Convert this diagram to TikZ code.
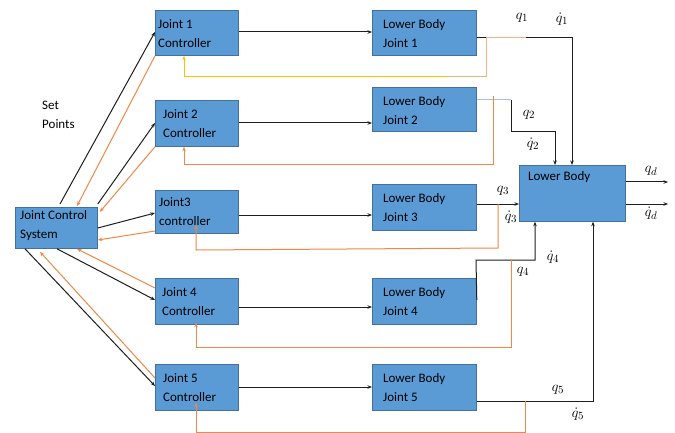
\documentclass[tikz,border=0pt]{standalone}
\usepackage{fontspec}
\setmainfont{Carlito}
\usetikzlibrary{arrows.meta,calc}
\definecolor{boxfill}{RGB}{91,155,213}
\definecolor{boxline}{RGB}{65,113,156}
\definecolor{fb}{RGB}{240,135,70}
\definecolor{fblight}{RGB}{244,177,131}
\definecolor{fbyellow}{RGB}{255,192,0}
\definecolor{lblue}{RGB}{157,195,230}
\definecolor{ln}{RGB}{30,30,30}
\tikzset{
  box/.style={draw=boxline,fill=boxfill,line width=0.8pt,anchor=north west,inner sep=0pt},
  txt/.style={anchor=north west,align=left,inner sep=1pt,font=\fontsize{13}{19}\selectfont},
  arr/.style={draw=ln,line width=1pt,-{Stealth[length=4.5pt,width=3.5pt]}},
  ln/.style={draw=ln,line width=1pt},
  fbarr/.style={draw=fb,line width=1pt,-{Stealth[length=4.5pt,width=3.5pt]}},
  fbln/.style={draw=fb,line width=1pt},
  ml/.style={inner sep=0pt,font=\fontsize{15}{17}\selectfont}
}
\begin{document}
\begin{tikzpicture}[x=1pt,y=-1pt]
\fill[white] (0,0) rectangle (675,433);
\useasboundingbox (0,0) rectangle (675,433);

% boxes
\node[box,minimum width=83pt,minimum height=45pt] (c1) at (155,10) {};
\node[box,minimum width=83pt,minimum height=46pt] (c2) at (155,100) {};
\node[box,minimum width=83pt,minimum height=43pt] (c3) at (155,190) {};
\node[box,minimum width=83pt,minimum height=46pt] (c4) at (155,278) {};
\node[box,minimum width=83pt,minimum height=46pt] (c5) at (155,364) {};
\node[box,minimum width=82pt,minimum height=41pt] (jcs) at (15,207) {};
\node[box,minimum width=104pt,minimum height=45pt] (l1) at (372,10) {};
\node[box,minimum width=104pt,minimum height=44pt] (l2) at (372,87) {};
\node[box,minimum width=104pt,minimum height=46pt] (l3) at (372,184) {};
\node[box,minimum width=104pt,minimum height=46pt] (l4) at (372,278) {};
\node[box,minimum width=104pt,minimum height=46pt] (l5) at (372,364) {};
\node[box,minimum width=106pt,minimum height=56pt] (lb) at (519,165) {};

% box texts
\node[txt] (c1t) at ($(c1.north west)+(2,8)$) {Joint 1\\Controller};
\node[txt] (c2t) at ($(c2.north west)+(7,8)$) {Joint 2\\Controller};
\node[txt] (c3t) at ($(c3.north west)+(3,6)$) {Joint3\\controller};
\node[txt] (c4t) at ($(c4.north west)+(6,8)$) {Joint 4\\Controller};
\node[txt] (c5t) at ($(c5.north west)+(7,8)$) {Joint 5\\Controller};
\node[txt] (jcst) at ($(jcs.north west)+(4,2)$) {Joint Control\\System};
\node[txt] (l1t) at ($(l1.north west)+(10,8)$) {Lower Body\\Joint 1};
\node[txt] (l2t) at ($(l2.north west)+(10,8)$) {Lower Body\\Joint 2};
\node[txt] (l3t) at ($(l3.north west)+(10,8)$) {Lower Body\\Joint 3};
\node[txt] (l4t) at ($(l4.north west)+(10,8)$) {Lower Body\\Joint 4};
\node[txt] (l5t) at ($(l5.north west)+(10,8)$) {Lower Body\\Joint 5};
\node[txt] (lbt) at ($(lb.north west)+(8,5)$) {Lower Body};
\node[txt] (sp) at (41,100) {Set\\Points};

% controller -> lower body joint
\draw[arr] (c1.east |- 0,32) -- (l1.west |- 0,32);
\draw[arr] (c2.east |- 0,123) -- (l2.west |- 0,123);
\draw[arr] (c3.east |- 0,215) -- (l3.west |- 0,215);
\draw[arr] (c4.east |- 0,307) -- (l4.west |- 0,307);
\draw[arr] (c5.east |- 0,387) -- (l5.west |- 0,387);

% JCS <-> controllers
\draw[arr] ($(jcs.north west)+(45,-3)$) -- (c1.west |- 0,32);
\draw[fbarr] (c1.south west) -- ($(jcs.north west)+(62,-1)$);
\draw[arr] ($(jcs.north east)+(0,-3)$) -- (c2.west |- 0,123);
\draw[fbarr] (c2.south west) -- ($(jcs.north east)+(2,5)$);
\draw[arr] ($(jcs.north east)+(0,21)$) -- (c3.west |- 0,213);
\draw[fbarr] (c3.west |- 0,231) -- ($(jcs.north east)+(0,33)$);
\draw[arr] ($(jcs.south west)+(42,0)$) -- (c4.west |- 0,300);
\draw[fbarr] (c4.west |- 0,288) -- ($(jcs.south west)+(62,0)$);
\draw[arr] ($(jcs.south west)+(10,0)$) -- (c5.west |- 0,386);
\draw[fbarr] (c5.west |- 0,378) -- ($(jcs.south west)+(25,3)$);

% joint 1 output + feedback
\draw[arr] (l1.east |- 0,38) -| (lb.north -| 572,0);
\draw[draw=fblight,line width=1pt] (526,38) -- (486,38) -- (486,77) -- (447,77);
\draw[draw=fbyellow,line width=1pt,-{Stealth[length=4.5pt,width=3.5pt]}] (447,77) -| ($(c1.south west)+(29,0)$);

% joint 2 output + feedback
\draw[draw=lblue,line width=1pt] (l2.east |- 0,100) -- (511,100);
\coordinate (j2a) at (511,100);
\draw[arr] (j2a) -- (511,132) -| (lb.north -| 555,0);
\draw[fbarr] (493,96) -- (493,165) -| ($(c2.south west)+(29,0)$);

% joint 3 output + feedback
\draw[arr] (l3.east |- 0,204) -- (lb.west |- 0,204);
\draw[fbarr] (498,204) -- (498,248) -- (196,250) -- ($(c3.south west)+(41,-9)$);

% joint 4 output + feedback
\draw[arr] (l4.east |- 0,300) -- (476,260) -- (535,260) -- (lb.south -| 535,0);
\draw[fbarr] (511,260) -- (511,347) -| ($(c4.south west)+(41,-2)$);

% joint 5 output + feedback
\draw[arr] (l5.east |- 0,401) -| (lb.south -| 593,0);
\draw[fbarr] (525,401) -- (525,432) -| ($(c5.south west)+(41,-8)$);

% outputs
\coordinate (o1) at (668,182);
\coordinate (o2) at (668,204);
\draw[arr] (lb.east |- o1) -- (o1);
\draw[arr] (lb.east |- o2) -- (o2);

% math labels
\node[ml] (q1) at (522,18) {$q_1$};
\node[ml] (dq1) at (562,19) {$\dot q_1$};
\node[ml] (q2) at (529,115) {$q_2$};
\node[ml] (dq2) at (533,144) {$\dot q_2$};
\node[ml] (q3) at (503,191) {$q_3$};
\node[ml] (dq3) at (511,217) {$\dot q_3$};
\node[ml] (dq4) at (553,257) {$\dot q_4$};
\node[ml] (q4) at (523,272) {$q_4$};
\node[ml] (q5) at (558,390) {$q_5$};
\node[ml] (dq5) at (578,414) {$\dot q_5$};
\node[ml] (qd) at (651,171) {$q_d$};
\node[ml] (dqd) at (651,213) {$\dot q_d$};
\end{tikzpicture}
\end{document}
